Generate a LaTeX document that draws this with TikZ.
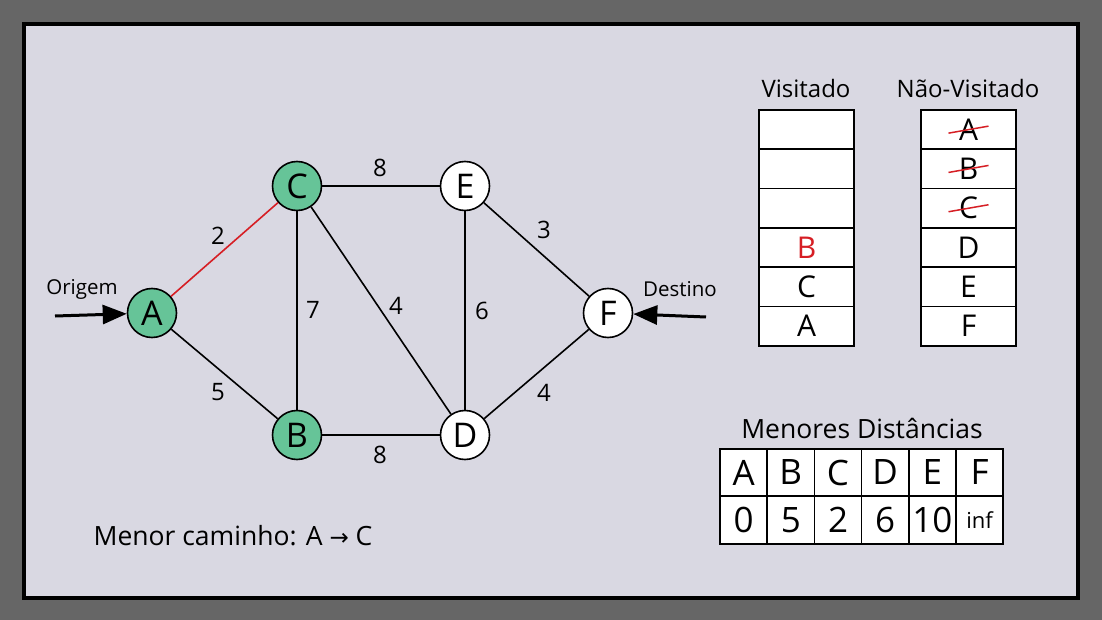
\documentclass[tikz,border=0pt]{standalone}
\usepackage{fontspec}
\setmainfont{Open Sans}
\newfontfamily\arrowfont{DejaVu Sans}
\usetikzlibrary{arrows.meta, positioning}
\definecolor{moldura}{RGB}{102, 102, 102}
\definecolor{painel}{RGB}{217, 216, 226}
\definecolor{verde}{RGB}{102, 196, 152}
\definecolor{vermelho}{RGB}{214, 30, 36}

\tikzset{
    vertice/.style={circle, draw, line width=1.6pt, fill=white, minimum size=49pt, inner sep=0pt,
        font=\fontsize{34}{34}\selectfont},
    visitado/.style={vertice, fill=verde},
    aresta/.style={line width=1.6pt},
    peso/.style={font=\fontsize{24}{24}\selectfont},
    celula/.style={draw, line width=1.6pt, fill=white, minimum width=95pt, minimum height=39.3pt,
        inner sep=0pt, outer sep=0pt, font=\fontsize{30}{30}\selectfont},
    dist/.style={draw, line width=1.6pt, fill=white, minimum width=47.2pt, minimum height=47.5pt,
        inner sep=0pt, outer sep=0pt, font=\fontsize{35}{35}\selectfont},
    titulo/.style={font=\fontsize{24}{24}\selectfont},
    seta/.style={line width=3pt, -{Triangle[length=24pt, width=19pt]}},
    risco/.style={vermelho, line width=1.5pt}
}

\begin{document}
\begin{tikzpicture}[x=1pt, y=-1pt]
    % Moldura e painel
    \fill[moldura] (0,0) rectangle (1102,620);
    \draw[line width=4pt, fill=painel] (24,24) rectangle (1078,598);

    % Vertices
    \node[visitado] (A) at (152,313) {A};
    \node[visitado] (C) at (297,186) {C};
    \node[visitado] (B) at (297,435) {B};
    \node[vertice] (E) at (465,186) {E};
    \node[vertice] (D) at (465,435) {D};
    \node[vertice] (F) at (608,313) {F};

    % Arestas
    \draw[aresta, vermelho] (A) -- (C);
    \draw[aresta] (A) -- (B);
    \draw[aresta] (C) -- (B);
    \draw[aresta] (C) -- (E);
    \draw[aresta] (C) -- (D);
    \draw[aresta] (B) -- (D);
    \draw[aresta] (E) -- (D);
    \draw[aresta] (E) -- (F);
    \draw[aresta] (D) -- (F);

    % Pesos
    \node[peso] at (218,236) {2};
    \node[peso] at (218,392) {5};
    \node[peso] at (313,310) {7};
    \node[peso] at (380,168) {8};
    \node[peso] at (380,455) {8};
    \node[peso] at (396,306) {4};
    \node[peso] at (482,311) {6};
    \node[peso] at (544,230) {3};
    \node[peso] at (544,393) {4};

    % Origem e destino
    \coordinate (origem) at (55,316);
    \coordinate (destino) at (706,317);
    \draw[seta] (origem) -- (A);
    \draw[seta] (destino) -- (F);
    \node[font=\fontsize{20.5}{20.5}\selectfont] at (82,289) {Origem};
    \node[font=\fontsize{20.5}{20.5}\selectfont] at (680,289) {Destino};

    % Visitado
    \node[titulo] at (806,89) {Visitado};
    \node[celula] (v1) at (806.5,129.65) {};
    \node[celula, below=0pt of v1] (v2) {};
    \node[celula, below=0pt of v2] (v3) {};
    \node[celula, below=0pt of v3, text=vermelho] (v4) {B};
    \node[celula, below=0pt of v4] (v5) {C};
    \node[celula, below=0pt of v5] (v6) {A};

    % Nao-Visitado
    \node[titulo] at (968,89) {Não-Visitado};
    \node[celula] (n1) at (968.5,129.65) {A};
    \node[celula, below=0pt of n1] (n2) {B};
    \node[celula, below=0pt of n2] (n3) {C};
    \node[celula, below=0pt of n3] (n4) {D};
    \node[celula, below=0pt of n4] (n5) {E};
    \node[celula, below=0pt of n5] (n6) {F};
    \draw[risco] ([xshift=-20pt, yshift=-3.5pt]n1.center) -- ([xshift=20pt, yshift=3.5pt]n1.center);
    \draw[risco] ([xshift=-20pt, yshift=-3.5pt]n2.center) -- ([xshift=20pt, yshift=3.5pt]n2.center);
    \draw[risco] ([xshift=-20pt, yshift=-3.5pt]n3.center) -- ([xshift=20pt, yshift=3.5pt]n3.center);

    % Menores distancias
    \node[titulo, font=\fontsize{26.5}{26.5}\selectfont] at (862,428) {Menores Distâncias};
    \node[dist] (dA) at (743.6,472.5) {A};
    \node[dist, right=0pt of dA] (dB) {B};
    \node[dist, right=0pt of dB] (dC) {C};
    \node[dist, right=0pt of dC] (dD) {D};
    \node[dist, right=0pt of dD] (dE) {E};
    \node[dist, right=0pt of dE] (dF) {F};
    \node[dist, below=0pt of dA] (vA) {0};
    \node[dist, below=0pt of dB] (vB) {5};
    \node[dist, below=0pt of dC] (vC) {2};
    \node[dist, below=0pt of dD] (vD) {6};
    \node[dist, below=0pt of dE] (vE) {10};
    \node[dist, below=0pt of dF, font=\fontsize{22}{22}\selectfont] (vF) {inf};

    % Caminho
    \node[font=\fontsize{26.5}{26.5}\selectfont] at (233,536) {Menor caminho: A {\arrowfont\fontsize{23}{23}\selectfont→} C};
\end{tikzpicture}
\end{document}
